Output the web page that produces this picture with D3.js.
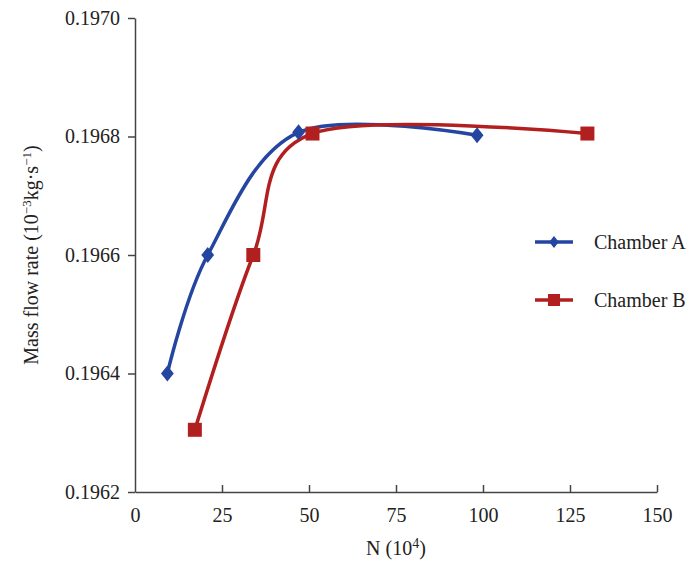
<!DOCTYPE html>
<html>
<head>
<meta charset="utf-8">
<script src="https://cdn.jsdelivr.net/npm/d3@7"></script>
<style>
  body { margin: 0; background: #fff; }
  text { font-family: "Liberation Serif", "Times New Roman", serif; fill: #222; }
</style>
</head>
<body>
<div id="chart"></div>
<script>
// Mass flow rate vs N, two chambers (D3 v7)

const width = 699;
const height = 563;
const margin = { top: 18, right: 42, bottom: 71, left: 135 };

const xTicks = [0, 25, 50, 75, 100, 125, 150];
const yTicks = [0.1962, 0.1964, 0.1966, 0.1968, 0.1970];

const seriesNames = ['Chamber A', 'Chamber B'];
const chamberAN = [9.3, 20.9, 47, 98.3];
const chamberAFlow = [0.19640, 0.19660, 0.196807, 0.196802];
const chamberBN = [17.2, 34, 51, 130];
const chamberBFlow = [0.196305, 0.19660, 0.196805, 0.196805];

const colors = { 'Chamber A': '#2445a0', 'Chamber B': '#b21f1f' };

const series = [
	{ name: seriesNames[0], values: chamberAN.map((n, i) => ({ n, v: chamberAFlow[i] })) },
	{ name: seriesNames[1], values: chamberBN.map((n, i) => ({ n, v: chamberBFlow[i] })) }
];

const svg = d3.select('#chart')
	.append('svg')
	.attr('width', width)
	.attr('height', height);

const x = d3.scaleLinear()
	.domain([0, 150])
	.range([margin.left, width - margin.right]);

const y = d3.scaleLinear()
	.domain([0.1962, 0.1970])
	.range([height - margin.bottom, margin.top]);

// axes
const xAxis = svg.append('g')
	.attr('transform', `translate(0, ${height - margin.bottom})`)
	.call(d3.axisBottom(x).tickValues(xTicks).tickSizeInner(-7).tickSizeOuter(0).tickPadding(16));

const yAxis = svg.append('g')
	.attr('transform', `translate(${margin.left}, 0)`)
	.call(d3.axisLeft(y).tickValues(yTicks).tickSizeInner(7).tickSizeOuter(0).tickPadding(8).tickFormat(d3.format('.4f')));

[xAxis, yAxis].forEach(a => {
	a.selectAll('path, line').attr('stroke', '#444').attr('stroke-width', 1.5);
	a.selectAll('text').style('font-size', '20px').attr('fill', '#222')
		.style('font-family', '"Liberation Serif", serif');
});
xAxis.select('.tick line').remove(); // no tick mark at the origin

// axis titles
svg.append('text')
	.attr('x', (margin.left + width - margin.right) / 2)
	.attr('y', 555)
	.attr('text-anchor', 'middle')
	.style('font-size', '20px')
	.html('N (10<tspan dy="-7" font-size="14px">4</tspan><tspan dy="7">)</tspan>');

svg.append('text')
	.attr('transform', 'translate(38, 255) rotate(-90)')
	.attr('text-anchor', 'middle')
	.style('font-size', '20px')
	.html('Mass flow rate (10<tspan dy="-7" font-size="13px">−3</tspan><tspan dy="7">kg·s</tspan><tspan dy="-7" font-size="13px">−1</tspan><tspan dy="7">)</tspan>');

// lines
const line = d3.line()
	.x(d => x(d.n))
	.y(d => y(d.v))
	.curve(d3.curveCardinal.tension(0));

svg.selectAll('.series')
	.data(series)
	.enter()
	.append('path')
	.attr('class', 'series')
	.attr('d', d => line(d.values))
	.attr('fill', 'none')
	.attr('stroke', d => colors[d.name])
	.attr('stroke-width', 3.5);

// markers
const diamond = (s) => `M0,${-s}L${s * 0.8},0L0,${s}L${-s * 0.8},0Z`;

svg.append('g').selectAll('path')
	.data(series[0].values)
	.enter()
	.append('path')
	.attr('transform', d => `translate(${x(d.n)}, ${y(d.v)})`)
	.attr('d', diamond(8))
	.attr('fill', colors['Chamber A']);

svg.append('g').selectAll('rect')
	.data(series[1].values)
	.enter()
	.append('rect')
	.attr('x', d => x(d.n) - 7)
	.attr('y', d => y(d.v) - 7)
	.attr('width', 14)
	.attr('height', 14)
	.attr('fill', colors['Chamber B']);

// legend
const legend = svg.append('g').attr('transform', 'translate(535, 242)');
const legendItem = legend.selectAll('g')
	.data(seriesNames)
	.enter()
	.append('g')
	.attr('transform', (d, i) => `translate(0, ${i * 58})`);

legendItem.append('line')
	.attr('x1', 0).attr('x2', 38)
	.attr('stroke', d => colors[d])
	.attr('stroke-width', 3.5);

legendItem.filter((d, i) => i === 0).append('path')
	.attr('transform', 'translate(19, 0)')
	.attr('d', diamond(6))
	.attr('fill', colors['Chamber A']);

legendItem.filter((d, i) => i === 1).append('rect')
	.attr('x', 13).attr('y', -6).attr('width', 12).attr('height', 12)
	.attr('fill', colors['Chamber B']);

legendItem.append('text')
	.attr('x', 59)
	.attr('y', 7)
	.style('font-size', '20px')
	.text(d => d);
</script>
</body>
</html>
